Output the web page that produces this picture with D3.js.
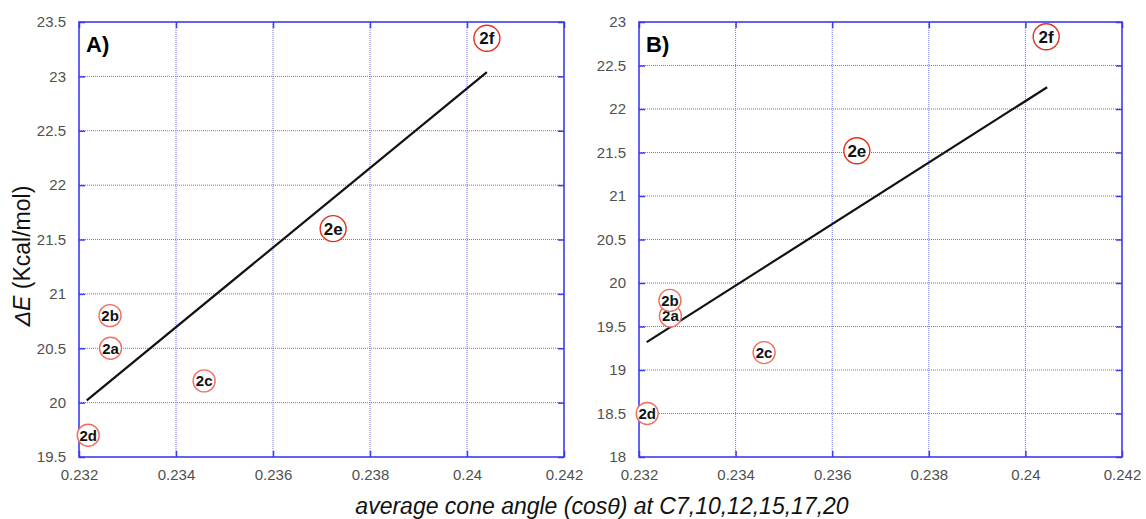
<!DOCTYPE html>
<html><head><meta charset="utf-8">
<script src="https://cdn.jsdelivr.net/npm/d3@7"></script>
<style>body{margin:0;background:#fff}svg{display:block}</style>
</head><body>
<svg id="c" width="1146" height="519"></svg>
<script>
// ---- data ----
const labels = ["2a","2b","2c","2d","2e","2f"];
const xA = [0.23265,0.23264,0.23458,0.23219,0.23724,0.24041];
const yA = [20.5,20.8,20.2,19.7,21.6,23.35];
const xB = [0.23265,0.23264,0.23459,0.23217,0.23651,0.24043];
const yB = [19.62,19.8,19.2,18.5,21.52,22.83];
const fitAx = [0.23216,0.24041], fitAy = [20.02,23.04];
const fitBx = [0.23216,0.24045], fitBy = [19.32,22.25];
const xTicks = [0.232,0.234,0.236,0.238,0.240,0.242];
const xTickLabels = ["0.232","0.234","0.236","0.238","0.24","0.242"];
const yTicksA = [19.5,20,20.5,21,21.5,22,22.5,23,23.5];
const yTickLabelsA = ["19.5","20","20.5","21","21.5","22","22.5","23","23.5"];
const yTicksB = [18,18.5,19,19.5,20,20.5,21,21.5,22,22.5,23];
const yTickLabelsB = ["18","18.5","19","19.5","20","20.5","21","21.5","22","22.5","23"];

const svg = d3.select("#c");
const blue = "#3b3bf0", grid = "#6f6ff2";
const font = "Liberation Sans, Arial, sans-serif";

function panel(opt){
  const g = svg.append("g");
  const x = d3.scaleLinear().domain([0.232,0.242]).range([opt.x0,opt.x1]);
  const y = d3.scaleLinear().domain(opt.ydom).range([opt.y1,opt.y0]);
  // grid
  g.append("g").selectAll("line").data(xTicks.slice(1,-1)).join("line")
    .attr("x1",d=>x(d)).attr("x2",d=>x(d)).attr("y1",opt.y0).attr("y2",opt.y1)
    .attr("stroke",grid).attr("stroke-width",1).attr("stroke-dasharray","1,1");
  g.append("g").selectAll("line").data(opt.yTicks.slice(1,-1)).join("line")
    .attr("y1",d=>y(d)).attr("y2",d=>y(d)).attr("x1",opt.x0).attr("x2",opt.x1)
    .attr("stroke",grid).attr("stroke-width",1).attr("stroke-dasharray","1,1");
  // axes with inner ticks
  const ax = (a)=>a.tickSizeOuter(0);
  const bottom = g.append("g").attr("transform",`translate(0,${opt.y1})`)
    .call(ax(d3.axisBottom(x).tickValues(xTicks).tickSize(-6).tickPadding(12).tickFormat((d,i)=>xTickLabels[i])));
  const top = g.append("g").attr("transform",`translate(0,${opt.y0})`)
    .call(ax(d3.axisTop(x).tickValues(xTicks).tickSize(-6).tickFormat("")));
  const left = g.append("g").attr("transform",`translate(${opt.x0},0)`)
    .call(ax(d3.axisLeft(y).tickValues(opt.yTicks).tickSize(-6).tickPadding(13).tickFormat((d,i)=>opt.yTickLabels[i])));
  const right = g.append("g").attr("transform",`translate(${opt.x1},0)`)
    .call(ax(d3.axisRight(y).tickValues(opt.yTicks).tickSize(-6).tickFormat("")));
  [bottom,top,left,right].forEach(a=>{
    a.select(".domain").remove();
    a.selectAll(".tick line").attr("stroke",blue).attr("stroke-width",1.5);
    a.selectAll(".tick text").attr("fill","#505050").attr("font-family",font).attr("font-size",15);
  });
  g.append("rect").attr("x",opt.x0).attr("y",opt.y0).attr("width",opt.x1-opt.x0).attr("height",opt.y1-opt.y0)
    .attr("fill","none").attr("stroke",blue).attr("stroke-width",1.6);
  // fit line
  g.append("line").attr("x1",x(opt.fx[0])).attr("y1",y(opt.fy[0])).attr("x2",x(opt.fx[1])).attr("y2",y(opt.fy[1]))
    .attr("stroke","#111").attr("stroke-width",2.2);
  // points
  const pts = labels.map((l,i)=>({l,x:opt.xs[i],y:opt.ys[i]}));
  const big = l => (l==="2e"||l==="2f");
  const pg = g.append("g").selectAll("g").data(pts).join("g")
    .attr("transform",d=>`translate(${x(d.x)},${y(d.y)})`);
  pg.append("circle").attr("r",d=>big(d.l)?13:11).attr("fill","#fff")
    .attr("stroke",d=>big(d.l)?"#e0301e":"#f07060").attr("stroke-width",1.4);
  pg.append("text").text(d=>d.l).attr("text-anchor","middle").attr("dy","0.36em")
    .attr("font-family",font).attr("font-weight","bold")
    .attr("font-size",d=>big(d.l)?17:15).attr("fill","#111");
  g.append("text").text(opt.name).attr("x",opt.x0+7).attr("y",opt.y0+30)
    .attr("font-family",font).attr("font-weight","bold").attr("font-size",22).attr("fill","#000");
}

panel({x0:79,x1:564,y0:22,y1:457,ydom:[19.5,23.5],yTicks:yTicksA,yTickLabels:yTickLabelsA,
  xs:xA,ys:yA,fx:fitAx,fy:fitAy,name:"A)"});
panel({x0:639,x1:1122,y0:22,y1:457,ydom:[18,23],yTicks:yTicksB,yTickLabels:yTickLabelsB,
  xs:xB,ys:yB,fx:fitBx,fy:fitBy,name:"B)"});

// axis titles
svg.append("text").attr("x",602).attr("y",514).attr("text-anchor","middle")
  .attr("font-family",font).attr("font-style","italic").attr("font-size",23).attr("fill","#111")
  .text("average cone angle (cosθ) at C7,10,12,15,17,20");
const yl = svg.append("text").attr("transform","translate(30,256) rotate(-90)").attr("text-anchor","middle")
  .attr("font-family",font).attr("font-size",23).attr("fill","#111");
yl.append("tspan").attr("font-style","italic").text("ΔE");
yl.append("tspan").text(" (Kcal/mol)");
</script>
</body></html>
